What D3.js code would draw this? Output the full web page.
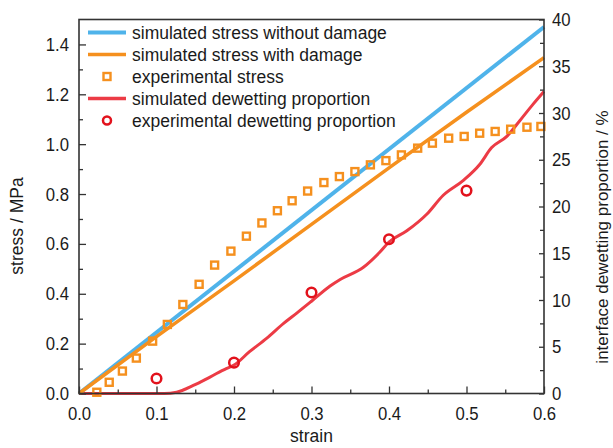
<!DOCTYPE html>
<html>
<head>
<meta charset="utf-8">
<script src="https://cdn.jsdelivr.net/npm/d3@7"></script>
<style>
  body { margin: 0; background: #fff; }
  svg text { font-family: "Liberation Sans", Arial, Helvetica, sans-serif; fill: #1a1a1a; }
</style>
</head>
<body>
<svg id="chart" width="613" height="448"></svg>
<script>
// ---- data ----
const strainTicks = [0, 0.1, 0.2, 0.3, 0.4, 0.5, 0.6];
const stressTicks = [0, 0.2, 0.4, 0.6, 0.8, 1.0, 1.2, 1.4];
const dewetTicks = [0, 5, 10, 15, 20, 25, 30, 35, 40];

// simulated stress without damage (linear elastic)
const simNoDamageStrain = [0, 0.6];
const simNoDamageStress = [0, 1.47];

// simulated stress with damage
const simDamageStrain = [0, 0.1, 0.2, 0.3, 0.4, 0.5, 0.6];
const simDamageStress = [0, 0.228, 0.452, 0.678, 0.905, 1.128, 1.347];

// experimental stress
const expStrain = [0.023, 0.039, 0.056, 0.074, 0.095, 0.114, 0.134, 0.155, 0.175, 0.196,
  0.216, 0.236, 0.256, 0.275, 0.295, 0.316, 0.336, 0.356, 0.376, 0.396,
  0.416, 0.437, 0.456, 0.477, 0.497, 0.517, 0.537, 0.557, 0.578, 0.596];
const expStress = [0.005, 0.045, 0.09, 0.142, 0.21, 0.277, 0.357, 0.438, 0.515, 0.571,
  0.631, 0.684, 0.733, 0.773, 0.812, 0.846, 0.870, 0.890, 0.917, 0.934,
  0.957, 0.984, 1.004, 1.024, 1.031, 1.044, 1.051, 1.060, 1.068, 1.071];

// simulated interface dewetting proportion (%)
const simDewetStrain = [0, 0.05, 0.11, 0.126, 0.1475, 0.169, 0.19, 0.2, 0.22, 0.242, 0.264,
  0.281, 0.3, 0.324, 0.337, 0.367, 0.388, 0.4, 0.423, 0.449, 0.47, 0.496, 0.517, 0.5325,
  0.552, 0.569, 0.586, 0.6];
const simDewet = [0, 0, 0, 0.14, 0.86, 1.76, 2.67, 3.03, 4.47, 5.9, 7.5,
  8.6, 9.87, 11.5, 12.2, 13.5, 15.1, 16.2, 17.4, 19.2, 21.2, 22.8, 24.5, 26.3,
  27.5, 29.2, 30.95, 32.3];

// experimental interface dewetting proportion (%)
const expDewetStrain = [0.1, 0.2, 0.3, 0.4, 0.5];
const expDewet = [1.6, 3.3, 10.8, 16.5, 21.7];

const legendLabels = [
  "simulated stress without damage",
  "simulated stress with damage",
  "experimental stress",
  "simulated dewetting proportion",
  "experimental dewetting proportion"
];

// ---- styling ----
const BLUE = "#4fb3ea", ORANGE = "#f5901e", RED = "#ec3b45", RED_MARK = "#e2121c", AXIS = "#333";
const plot = { left: 79, right: 544, top: 19.5, bottom: 393.5 };

const svg = d3.select("#chart");
const x = d3.scaleLinear().domain([0, 0.6]).range([plot.left, plot.right]);
const y = d3.scaleLinear().domain([0, 1.5]).range([plot.bottom, plot.top]);
const yR = d3.scaleLinear().domain([0, 40]).range([plot.bottom, plot.top]);

const zip = (a, b) => a.map((v, i) => [v, b[i]]);
const lineL = d3.line().x(d => x(d[0])).y(d => y(d[1]));
const lineR = d3.line().x(d => x(d[0])).y(d => yR(d[1])).curve(d3.curveMonotoneX);

// ---- series ----
const g = svg.append("g");
g.append("path").datum(zip(simDewetStrain, simDewet))
  .attr("d", lineR).attr("fill", "none").attr("stroke", RED).attr("stroke-width", 3)
  .attr("stroke-linejoin", "round");
g.append("path").datum(zip(simNoDamageStrain, simNoDamageStress))
  .attr("d", lineL).attr("fill", "none").attr("stroke", BLUE).attr("stroke-width", 4);
g.append("path").datum(zip(simDamageStrain, simDamageStress))
  .attr("d", lineL).attr("fill", "none").attr("stroke", ORANGE).attr("stroke-width", 3.5);

const sq = 7;
g.selectAll("rect.exp").data(zip(expStrain, expStress)).join("rect")
  .attr("class", "exp")
  .attr("x", d => x(d[0]) - sq / 2).attr("y", d => y(d[1]) - sq / 2)
  .attr("width", sq).attr("height", sq)
  .attr("fill", "none").attr("stroke", ORANGE).attr("stroke-width", 2.4);

g.selectAll("circle.dew").data(zip(expDewetStrain, expDewet)).join("circle")
  .attr("class", "dew")
  .attr("cx", d => x(d[0])).attr("cy", d => yR(d[1])).attr("r", 4.8)
  .attr("fill", "none").attr("stroke", RED_MARK).attr("stroke-width", 2.5);

// ---- axes ----
function squeeze(sel) {
  sel.selectAll("text").each(function () {
    const t = d3.select(this);
    const tx = +(t.attr("x") || 0);
    t.attr("transform", `translate(${tx},0) scale(0.88,1)`).attr("x", 0);
  });
}
function styleAxis(sel) {
  sel.select(".domain").remove();
  sel.selectAll("line").attr("stroke", AXIS).attr("stroke-width", 1.3);
  sel.selectAll("text").style("font-size", "19px").attr("fill", "#1a1a1a");
}

// minor ticks
svg.append("g").attr("transform", `translate(${plot.left},0)`)
  .call(d3.axisLeft(y).tickValues(d3.range(0.1, 1.5, 0.2)).tickSize(-4).tickFormat(""))
  .call(styleAxis);
svg.append("g").attr("transform", `translate(0,${plot.bottom})`)
  .call(d3.axisBottom(x).tickValues(d3.range(0.05, 0.6, 0.1)).tickSize(-4).tickFormat(""))
  .call(styleAxis);
svg.append("g").attr("transform", `translate(${plot.right},0)`)
  .call(d3.axisRight(yR).tickValues(d3.range(2.5, 40, 5)).tickSize(-4).tickFormat(""))
  .call(styleAxis);

// major ticks with labels
svg.append("g").attr("transform", `translate(${plot.left},0)`)
  .call(d3.axisLeft(y).tickValues(stressTicks).tickSize(-7).tickPadding(10).tickFormat(d3.format(".1f")))
  .call(styleAxis).call(squeeze);
svg.append("g").attr("transform", `translate(0,${plot.bottom})`)
  .call(d3.axisBottom(x).tickValues(strainTicks).tickSize(-7).tickPadding(13).tickFormat(d3.format(".1f")))
  .call(styleAxis).call(squeeze);
svg.append("g").attr("transform", `translate(${plot.right},0)`)
  .call(d3.axisRight(yR).tickValues(dewetTicks).tickSize(-5).tickPadding(8).tickFormat(d3.format("d")))
  .call(styleAxis).call(squeeze);

// frame
svg.append("rect")
  .attr("x", plot.left).attr("y", plot.top)
  .attr("width", plot.right - plot.left).attr("height", plot.bottom - plot.top)
  .attr("fill", "none").attr("stroke", AXIS).attr("stroke-width", 1.6);

// axis titles
svg.append("text").attr("x", (plot.left + plot.right) / 2).attr("y", 442)
  .attr("text-anchor", "middle").style("font-size", "17.5px").text("strain");
svg.append("text").attr("transform", "translate(23,226) rotate(-90)")
  .attr("text-anchor", "middle").style("font-size", "17.5px").text("stress / MPa");
svg.append("text").attr("transform", "translate(608,237) rotate(-90)")
  .attr("text-anchor", "middle").style("font-size", "17px").text("interface dewetting proportion / %");

// ---- legend ----
const leg = svg.append("g");
const rowY = i => 32.5 + 22 * i;
const kinds = [
  { type: "line", color: BLUE, w: 4 },
  { type: "line", color: ORANGE, w: 3.5 },
  { type: "square", color: ORANGE },
  { type: "line", color: RED, w: 3.5 },
  { type: "circle", color: RED_MARK }
];
kinds.forEach((k, i) => {
  const cy = rowY(i);
  if (k.type === "line") {
    leg.append("line").attr("x1", 88).attr("x2", 126).attr("y1", cy).attr("y2", cy)
      .attr("stroke", k.color).attr("stroke-width", k.w);
  } else if (k.type === "square") {
    leg.append("rect").attr("x", 107 - 3.5).attr("y", cy - 3.5).attr("width", 7).attr("height", 7)
      .attr("fill", "none").attr("stroke", k.color).attr("stroke-width", 2.4);
  } else {
    leg.append("circle").attr("cx", 107).attr("cy", cy).attr("r", 4)
      .attr("fill", "none").attr("stroke", k.color).attr("stroke-width", 2.5);
  }
  leg.append("text").attr("x", 132).attr("y", cy).attr("dy", "0.35em")
    .style("font-size", "17.5px").text(legendLabels[i]);
});
</script>
</body>
</html>
